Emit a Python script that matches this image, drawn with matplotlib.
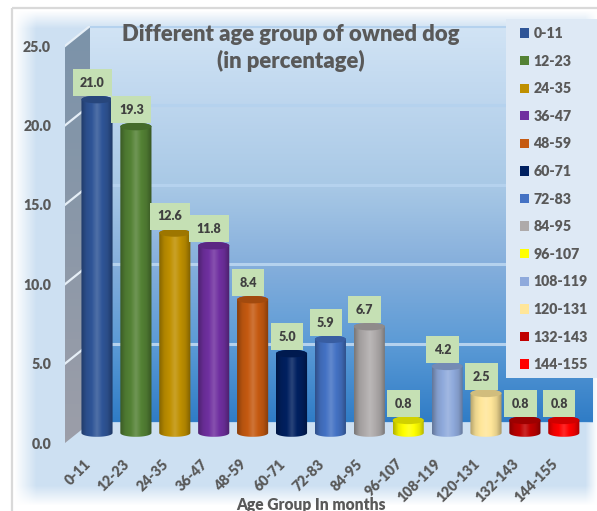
import numpy as np
import matplotlib
matplotlib.use("Agg")
import matplotlib.pyplot as plt
from matplotlib.colors import to_rgb, LinearSegmentedColormap
from matplotlib.patches import Ellipse, Patch, Polygon, Rectangle

age_groups = ["0-11", "12-23", "24-35", "36-47", "48-59", "60-71", "72-83",
              "84-95", "96-107", "108-119", "120-131", "132-143", "144-155"]
percent = [21.0, 19.3, 12.6, 11.8, 8.4, 5.0, 5.9, 6.7, 0.8, 4.2, 2.5, 0.8, 0.8]
colors = ["#2f5597", "#548235", "#bf9000", "#7030a0", "#c55a11", "#002060", "#4472c4",
          "#aeaaaa", "#ffff00", "#8faadc", "#ffe699", "#c00000", "#ff0000"]
y_ticks = [0, 5, 10, 15, 20, 25]

W, H = 597, 511
PX_PER_UNIT = 15.88
PX_PER_BAR = 38.9
FIRST_BAR_X = 97
BAR_WIDTH = 0.8
CAP = 0.24
DEPTH = 20 / PX_PER_UNIT
TEXT = "#595959"

plt.rcParams["font.family"] = ["Lato", "DejaVu Sans"]
plt.rcParams["font.weight"] = "heavy"

fig = plt.figure(figsize=(W / 100, H / 100), dpi=100, facecolor="white")


def px_axes(left, top, right, bottom):
    ax = fig.add_axes([left / W, 1 - bottom / H, (right - left) / W, (bottom - top) / H])
    ax.patch.set_visible(False)
    for s in ax.spines.values():
        s.set_visible(False)
    ax.tick_params(length=0)
    return ax


def shade(color, amount):
    c = np.array(to_rgb(color))
    if amount < 0:
        return tuple(c * (1 + amount))
    return tuple(c + (1 - c) * amount)


# soft blue panel behind the plot, fading to white at its edges
bg = px_axes(0, 0, W, H)
bg.set_axis_off()
yy, xx = np.mgrid[0:H, 0:W]
fade = (np.clip((xx - 14) / 22, 0, 1) * np.clip((yy - 10) / 18, 0, 1)
        * np.clip((505 - yy) / 20, 0, 1) * np.clip((597 - xx) / 12, 0, 1))
panel = np.zeros((H, W, 4))
panel[..., :3] = to_rgb("#cde0f2")
panel[..., 3] = fade
bg.imshow(panel, aspect="auto", extent=(0, W, H, 0))
bg.set_xlim(0, W)
bg.set_ylim(H, 0)
bg.add_patch(Rectangle((12, 8), W, H, fill=False, ec="#d9d9d9", lw=1.6))

# back wall with its gridlines
wall = px_axes(90, 26, 593, 423)
wall_cmap = LinearSegmentedColormap.from_list(
    "wall", ["#2f7cc6", "#5c9bd6", "#86afdc", "#a9c9e6", "#bdd6ee", "#d2e4f5"])
wall.imshow(np.linspace(0, 1, 256)[:, None], cmap=wall_cmap, aspect="auto",
            origin="lower", extent=(0, 1, 0, 25), zorder=0)
wall.set_xlim(0, 1)
wall.set_ylim(0, 25)
wall.set_xticks([])
wall.set_yticks(y_ticks)
wall.set_yticklabels([])
wall.grid(axis="y", color="#b5d2ee", lw=2.2, zorder=1)
wall.set_axisbelow(False)

# left side wall, y runs with the front edge
side = px_axes(65, 26, 90, 443)
side.set_axis_off()
side.set_xlim(0, 1)
side.set_ylim(0, 25 + DEPTH)
side_cmap = LinearSegmentedColormap.from_list("side", ["#9c9ea8", "#8b98a8", "#7b93aa"])
side_im = side.imshow(np.linspace(0, 1, 64)[:, None], cmap=side_cmap, aspect="auto",
                      origin="lower", extent=(0, 1, 0, 25 + DEPTH))
side_shape = Polygon([(0, 0), (1, DEPTH), (1, 25 + DEPTH), (0, 25)], transform=side.transData)
side_im.set_clip_path(side_shape)
for v in y_ticks[1:]:
    side.plot([0, 1], [v, v + DEPTH], color="#e6eff7", lw=1.6)

# cylinders
ax = px_axes(0, 26, W, 433 + PX_PER_UNIT)
ax.set_axis_off()
half = BAR_WIDTH / 2
t = np.linspace(0, np.pi, 40)
for i, (v, c) in enumerate(zip(percent, colors)):
    body = np.array([shade(c, -0.30), shade(c, -0.08), to_rgb(c), shade(c, 0.16), to_rgb(c),
                     shade(c, -0.10), shade(c, -0.34)])
    grad = np.array([np.interp(np.linspace(0, 6, 64), np.arange(7), body[:, k]) for k in range(3)])
    grad = grad.T[None, :, :]
    im = ax.imshow(grad, aspect="auto", extent=(i - half, i + half, -CAP, v + CAP), zorder=3)
    outline = np.vstack([
        np.column_stack([i + half * np.cos(t), v + CAP * np.sin(t)]),
        np.column_stack([i - half * np.cos(t), -CAP * np.sin(t)]),
    ])
    im.set_clip_path(Polygon(outline, transform=ax.transData))
    ax.add_patch(Ellipse((i, v), BAR_WIDTH, 2 * CAP, color=shade(c, -0.18), lw=0, zorder=4))
    ax.annotate(f"{v:.1f}", (i, v), xytext=(-3.3, 12), textcoords="offset points",
                ha="center", va="center", fontsize=9, color="#404040", zorder=6,
                bbox=dict(boxstyle="square,pad=0.6", fc="#c5e0b4", ec="none"))
ax.set_xlim(-FIRST_BAR_X / PX_PER_BAR, (W - FIRST_BAR_X) / PX_PER_BAR)
ax.set_ylim(-1, (433 - 26) / PX_PER_UNIT)

# front edge carries the tick labels
front = px_axes(65, 46, 590, 443)
x0 = FIRST_BAR_X - 13
front.set_xlim((65 - x0) / PX_PER_BAR, (590 - x0) / PX_PER_BAR)
front.set_ylim(0, 25)
front.set_yticks(y_ticks)
front.set_yticklabels([f"{v:.1f}" for v in y_ticks], fontsize=10.2, color=TEXT)
front.set_xticks(range(len(age_groups)))
front.set_xticklabels(age_groups, rotation=45, ha="right", rotation_mode="anchor",
                      fontsize=10.2, color=TEXT)
front.tick_params(axis="y", pad=10)
front.tick_params(axis="x", pad=10)
front.set_xlabel("Age Group In months", fontsize=11.2, color=TEXT, fontweight="heavy")
front.xaxis.set_label_coords((311 - 65) / 525, -54 / 397)

fig.text(291 / W, 1 - 48 / H, "Different age group of owned dog\n(in percentage)",
         ha="center", va="center", fontsize=15.9, color=TEXT, linespacing=1.3, zorder=7)

# legend panel reaches the right edge, entries sit inset from it
fig.add_artist(Rectangle((506 / W, 1 - 378 / H), (W - 506) / W, 359 / H, fc="#dee9f5", ec="none",
                         transform=fig.transFigure, zorder=7))
handles = [Patch(fc=c, ec="none", label=g) for g, c in zip(age_groups, colors)]
leg = fig.legend(handles=handles, loc="upper left", bbox_to_anchor=(520 / W, 1 - 27 / H),
                 borderaxespad=0, fontsize=10.2, handlelength=0.64, handleheight=0.64,
                 handletextpad=0.3, labelspacing=1.03, borderpad=0, labelcolor=TEXT,
                 frameon=False)
leg.set_zorder(8)

fig.savefig("out.png", dpi=100)
